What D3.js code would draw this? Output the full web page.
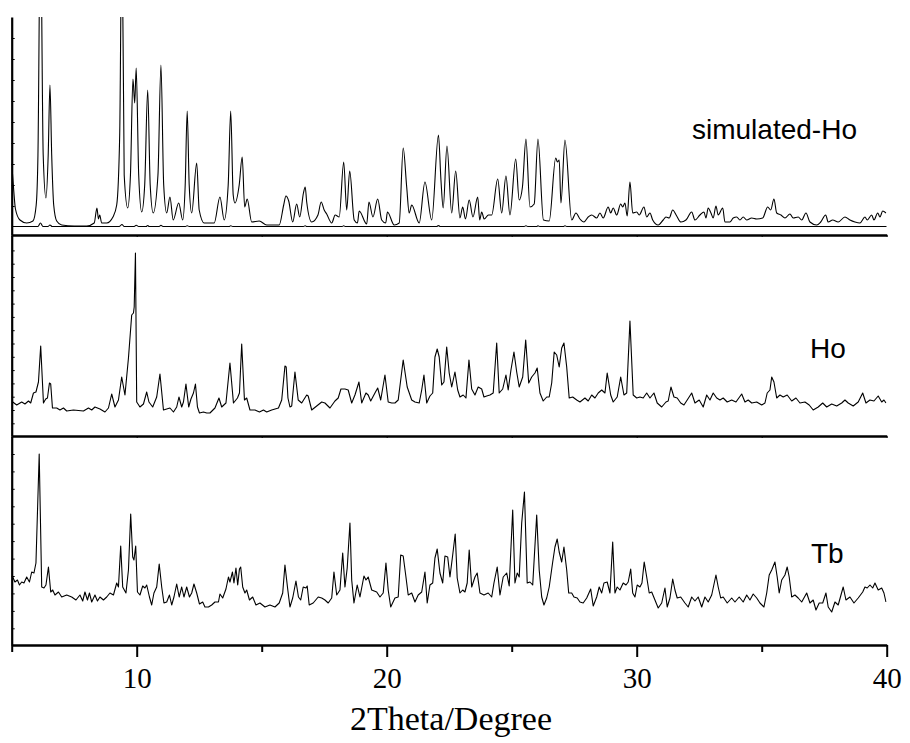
<!DOCTYPE html>
<html>
<head>
<meta charset="utf-8">
<script src="https://cdn.jsdelivr.net/npm/d3@7/dist/d3.min.js"></script>
<style>
  body { margin: 0; background: #fff; }
  svg { display: block; }
</style>
</head>
<body>
<script>
"use strict";

// x = 2Theta (degree), y = intensity (a.u.)
const simHo = [
  [5.00,72],[5.08,45],[5.15,26],[5.33,15],[5.6,12],[5.85,14],[5.98,30],[6.05,80],[6.15,320],[6.26,80],
  [6.37,37],[6.46,80],[6.53,150],[6.60,80],[6.68,30],[6.80,14],[7.0,10],[7.5,9],[8.0,9],[8.3,12],
  [8.41,27],[8.47,16],[8.52,20],[8.6,12],[8.8,12],[9.05,18],[9.2,30],[9.32,100],[9.41,320],[9.5,60],
  [9.64,27],[9.75,60],[9.85,156],[9.92,132],[9.98,167],[10.08,60],[10.2,23],[10.32,50],[10.44,145],[10.54,50],
  [10.66,22],[10.85,60],[10.97,170],[11.08,50],[11.2,22],[11.33,38],[11.46,15],[11.68,32],[11.84,15],[11.94,50],
  [12.02,124],[12.1,50],[12.2,22],[12.4,72],[12.5,25],[12.7,12],[13.1,12],[13.33,38],[13.5,15],[13.66,50],
  [13.76,124],[13.86,40],[13.93,32],[14.1,50],[14.22,78],[14.32,28],[14.42,36],[14.6,13],[14.9,14],[15.2,10],
  [15.7,10],[15.88,30],[15.97,39],[16.08,34],[16.24,13],[16.4,31],[16.52,18],[16.67,42],[16.74,48],[16.8,33],
  [17.0,13],[17.25,20],[17.38,33],[17.5,25],[17.6,21],[17.8,12],[17.94,20],[18.1,18],[18.28,73],[18.4,25],
  [18.52,64],[18.7,15],[18.83,12],[18.9,24],[19.2,11],[19.29,33],[19.45,18],[19.64,36],[19.8,15],[19.96,12],
  [20.03,23],[20.3,10],[20.5,12],[20.66,87],[20.8,48],[20.9,22],[21.0,30],[21.3,12],[21.53,53],[21.8,15],
  [22.07,100],[22.17,55],[22.26,27],[22.41,89],[22.6,22],[22.76,64],[22.93,17],[23.04,28],[23.15,16],[23.3,35],
  [23.45,18],[23.64,38],[23.72,15],[23.8,23],[23.9,16],[24.07,20],[24.2,20],[24.44,56],[24.6,22],[24.77,59],
  [24.93,20],[25.16,76],[25.3,35],[25.43,48],[25.57,96],[25.73,28],[25.9,31],[26.05,96],[26.27,15],[26.5,14],
  [26.76,77],[26.83,73],[26.9,75],[26.97,32],[27.13,95],[27.4,15],[27.57,22],[27.73,16],[27.89,13],[28.06,18],
  [28.2,20],[28.4,17],[28.53,22],[28.66,17],[28.86,28],[28.96,22],[29.06,27],[29.2,20],[29.36,31],[29.44,28],
  [29.53,32],[29.62,19],[29.73,53],[29.84,22],[30.0,23],[30.1,20],[30.29,28],[30.4,18],[30.53,22],[30.64,15],
  [30.86,10],[31.06,15],[31.17,18],[31.3,17],[31.44,25],[31.6,19],[31.77,13],[31.97,15],[32.2,23],[32.33,15],
  [32.53,20],[32.69,23],[32.77,17],[32.86,27],[32.97,22],[33.06,17],[33.17,29],[33.26,20],[33.44,27],[33.53,13],
  [33.73,13],[33.86,17],[34.0,18],[34.13,15],[34.26,18],[34.4,15],[34.6,17],[34.8,16],[35.04,17],[35.24,28],
  [35.36,25],[35.49,36],[35.6,22],[35.77,20],[35.93,17],[36.13,21],[36.26,17],[36.46,18],[36.6,15],[36.77,22],
  [36.93,13],[37.2,10],[37.36,13],[37.56,20],[37.66,13],[37.84,15],[38.06,13],[38.33,18],[38.53,15],[38.73,13],
  [38.93,12],[39.13,18],[39.22,15],[39.4,20],[39.49,15],[39.64,22],[39.73,18],[39.84,24],[39.97,22]
];

const simBase = [
  [5.0,8.5],[6.05,8.5],[6.15,12],[6.25,8.5],[6.45,8.5],[6.53,10],[6.62,8.5],[9.3,8.5],[9.41,10.5],[9.5,8.5],
  [9.9,8.5],[9.98,9.8],[10.08,8.5],[10.38,8.5],[10.44,9.5],[10.5,8.5],[10.9,8.5],[10.97,9.6],[11.05,8.5],
  [11.95,8.5],[12.02,9.3],[12.1,8.5],[13.7,8.5],[13.76,9.3],[13.84,8.5],[16.67,8.5],[16.74,9.3],[16.8,8.5],
  [18.22,8.5],[18.28,9.2],[18.34,8.5],[22.0,8.5],[22.07,9.4],[22.14,8.5],[25.5,8.5],[25.57,9.3],[25.64,8.5],
  [26.0,8.5],[26.05,9.3],[26.12,8.5],[27.07,8.5],[27.13,9.3],[27.2,8.5],[40.0,8.5]
];

const expHo = [
  [5.04,34],[5.2,31],[5.4,34],[5.53,32],[5.67,35],[5.76,33],[5.87,43],[5.97,44],[6.07,54],[6.16,90],
  [6.27,33],[6.36,37],[6.43,38],[6.51,53],[6.56,52],[6.63,28],[6.8,28],[6.93,26],[7.07,28],[7.2,25],
  [7.47,26],[7.87,25],[8.07,28],[8.2,26],[8.33,29],[8.53,27],[8.73,24],[8.87,28],[9.0,42],[9.13,29],
  [9.27,36],[9.4,59],[9.53,41],[9.67,78],[9.8,121],[9.87,123],[9.9,129],[9.95,183],[10.0,34],[10.13,29],
  [10.27,32],[10.4,44],[10.49,34],[10.64,29],[10.8,39],[10.93,62],[11.07,26],[11.2,27],[11.33,28],[11.47,24],
  [11.6,29],[11.69,39],[11.8,29],[11.87,34],[11.97,52],[12.08,29],[12.17,37],[12.27,43],[12.35,52],[12.43,29],
  [12.51,23],[12.67,24],[12.8,23],[12.93,23],[13.13,28],[13.29,38],[13.4,29],[13.57,33],[13.73,73],[13.87,33],
  [14.03,38],[14.11,43],[14.2,92],[14.31,36],[14.4,38],[14.53,26],[14.73,26],[14.91,24],[15.07,26],[15.2,24],
  [15.4,26],[15.67,28],[15.8,36],[15.93,70],[15.98,69],[16.05,38],[16.13,29],[16.2,30],[16.33,64],[16.46,36],
  [16.6,33],[16.8,41],[16.86,40],[17.0,26],[17.2,30],[17.4,34],[17.53,33],[17.73,28],[17.93,35],[18.06,38],
  [18.17,47],[18.33,47],[18.46,46],[18.6,33],[18.73,41],[18.89,54],[19.0,33],[19.17,43],[19.26,41],[19.36,35],
  [19.53,43],[19.64,48],[19.76,36],[19.93,61],[20.06,34],[20.2,33],[20.33,33],[20.46,36],[20.66,76],[20.82,49],
  [21.0,36],[21.13,34],[21.3,33],[21.4,46],[21.49,61],[21.6,33],[21.73,40],[21.84,43],[21.93,79],[22.02,87],
  [22.1,79],[22.2,51],[22.29,54],[22.4,89],[22.5,63],[22.6,49],[22.73,64],[22.84,46],[22.93,39],[23.06,41],
  [23.17,38],[23.29,76],[23.4,47],[23.53,41],[23.66,49],[23.8,47],[23.89,39],[24.0,40],[24.13,41],[24.26,43],
  [24.4,93],[24.5,43],[24.64,47],[24.77,61],[24.86,46],[24.97,66],[25.09,84],[25.2,64],[25.3,49],[25.44,59],
  [25.56,96],[25.68,53],[25.8,59],[25.93,63],[26.02,68],[26.13,43],[26.26,35],[26.4,39],[26.5,39],[26.6,53],
  [26.7,84],[26.8,81],[26.9,69],[27.0,88],[27.09,93],[27.2,69],[27.3,38],[27.44,39],[27.6,36],[27.73,34],
  [27.93,38],[28.06,35],[28.2,41],[28.33,38],[28.46,43],[28.6,46],[28.73,43],[28.82,63],[28.96,41],[29.06,34],
  [29.22,39],[29.36,59],[29.49,41],[29.6,43],[29.73,115],[29.86,41],[30.0,38],[30.13,39],[30.26,38],[30.4,43],
  [30.53,38],[30.69,43],[30.82,33],[31.0,29],[31.17,34],[31.26,35],[31.37,49],[31.49,39],[31.62,38],[31.76,33],
  [31.89,31],[32.02,36],[32.2,43],[32.33,33],[32.5,36],[32.66,29],[32.8,41],[32.93,36],[33.06,43],[33.2,38],
  [33.33,36],[33.46,38],[33.62,34],[33.8,36],[33.97,34],[34.2,42],[34.33,34],[34.46,36],[34.6,33],[34.8,34],
  [35.0,31],[35.13,33],[35.22,43],[35.33,46],[35.4,59],[35.49,54],[35.6,38],[35.73,41],[35.86,39],[36.02,41],
  [36.2,35],[36.37,38],[36.53,33],[36.73,34],[36.9,31],[37.06,26],[37.26,29],[37.44,33],[37.6,29],[37.8,32],
  [38.0,30],[38.2,33],[38.33,36],[38.46,33],[38.66,30],[38.86,34],[39.04,43],[39.17,33],[39.33,36],[39.49,35],
  [39.66,40],[39.8,34],[39.89,36],[39.97,33]
];

const expTb = [
  [5.04,68],[5.13,63],[5.23,65],[5.31,60],[5.4,63],[5.49,62],[5.6,68],[5.71,63],[5.8,73],[5.89,72],
  [5.97,82],[6.1,191],[6.2,58],[6.29,57],[6.37,60],[6.47,78],[6.56,53],[6.64,55],[6.73,50],[6.87,53],
  [7.0,48],[7.2,50],[7.4,48],[7.57,45],[7.73,50],[7.84,44],[7.93,53],[8.03,45],[8.11,52],[8.2,43],
  [8.33,50],[8.43,44],[8.53,48],[8.67,45],[8.8,48],[8.93,52],[9.07,50],[9.2,62],[9.27,58],[9.36,99],
  [9.44,58],[9.57,52],[9.67,75],[9.76,131],[9.84,88],[9.89,85],[9.96,99],[10.03,53],[10.13,50],[10.24,59],
  [10.33,57],[10.4,60],[10.51,48],[10.6,40],[10.69,52],[10.8,58],[10.9,81],[11.0,58],[11.09,42],[11.2,43],
  [11.31,50],[11.4,40],[11.49,48],[11.6,61],[11.7,48],[11.8,58],[11.89,48],[12.0,58],[12.11,48],[12.2,52],
  [12.29,61],[12.4,52],[12.51,41],[12.64,43],[12.73,38],[12.87,38],[13.0,40],[13.13,43],[13.27,43],[13.33,51],
  [13.44,47],[13.57,56],[13.67,68],[13.73,63],[13.83,73],[13.89,62],[13.97,77],[14.04,60],[14.11,76],[14.16,78],
  [14.24,58],[14.33,52],[14.4,55],[14.51,45],[14.64,48],[14.77,40],[14.93,42],[15.13,38],[15.33,40],[15.53,38],
  [15.7,42],[15.84,52],[15.93,80],[16.03,58],[16.13,38],[16.24,47],[16.37,64],[16.47,48],[16.56,45],[16.66,58],
  [16.77,57],[16.82,59],[16.9,40],[17.06,42],[17.26,48],[17.4,47],[17.53,45],[17.66,42],[17.8,47],[17.89,73],
  [18.0,50],[18.13,55],[18.24,92],[18.33,58],[18.42,77],[18.53,122],[18.6,65],[18.69,42],[18.82,60],[18.93,48],
  [19.09,69],[19.17,65],[19.26,68],[19.4,55],[19.6,53],[19.73,48],[19.86,52],[19.97,82],[20.06,55],[20.16,38],
  [20.33,47],[20.46,48],[20.56,90],[20.66,89],[20.77,68],[20.86,50],[21.0,52],[21.13,43],[21.26,50],[21.4,53],
  [21.53,73],[21.62,42],[21.73,60],[21.84,62],[21.93,87],[22.02,96],[22.13,72],[22.24,62],[22.33,89],[22.44,88],
  [22.53,68],[22.64,90],[22.74,111],[22.82,67],[22.93,52],[23.04,55],[23.13,53],[23.22,62],[23.3,95],[23.4,58],
  [23.53,68],[23.62,72],[23.73,52],[23.89,50],[24.06,52],[24.2,48],[24.29,62],[24.42,78],[24.53,50],[24.66,68],
  [24.8,72],[24.9,59],[25.04,135],[25.13,62],[25.22,72],[25.3,68],[25.4,122],[25.51,153],[25.62,62],[25.73,63],
  [25.84,60],[26.0,130],[26.1,75],[26.2,48],[26.29,40],[26.4,47],[26.5,58],[26.64,83],[26.73,98],[26.82,106],
  [26.9,93],[27.0,83],[27.09,98],[27.2,75],[27.28,52],[27.4,52],[27.49,48],[27.62,47],[27.73,43],[27.86,42],
  [28.0,47],[28.16,56],[28.26,39],[28.4,48],[28.5,58],[28.6,52],[28.69,62],[28.82,63],[28.93,52],[29.04,103],
  [29.13,52],[29.22,58],[29.33,55],[29.46,62],[29.57,60],[29.66,63],[29.76,76],[29.84,52],[29.93,48],[30.02,60],
  [30.13,58],[30.21,62],[30.3,83],[30.4,68],[30.5,52],[30.6,53],[30.73,45],[30.86,37],[31.0,42],[31.13,57],
  [31.22,38],[31.33,47],[31.44,66],[31.53,55],[31.62,47],[31.76,48],[31.93,42],[32.06,38],[32.2,48],[32.33,44],
  [32.46,48],[32.6,38],[32.73,48],[32.86,43],[33.0,50],[33.17,70],[33.26,58],[33.36,47],[33.46,48],[33.62,42],
  [33.8,47],[33.93,43],[34.1,48],[34.26,43],[34.4,50],[34.53,45],[34.66,51],[34.8,47],[34.93,42],[35.09,38],
  [35.2,52],[35.3,70],[35.4,75],[35.53,83],[35.62,68],[35.7,52],[35.8,65],[35.93,70],[36.02,78],[36.1,68],
  [36.2,48],[36.33,50],[36.46,47],[36.6,43],[36.8,52],[36.93,42],[37.06,45],[37.17,35],[37.3,42],[37.44,42],
  [37.57,52],[37.66,38],[37.8,33],[37.93,43],[38.06,40],[38.26,58],[38.37,45],[38.53,48],[38.69,42],[38.86,47],
  [39.04,53],[39.13,58],[39.22,57],[39.33,60],[39.44,57],[39.53,62],[39.66,55],[39.8,57],[39.89,52],[39.97,43]
];

// unlabelled inner ticks on the left edge of each panel (intensity units)
const topTicks = [29, 50, 71, 92, 113, 134, 155, 176, 197];
const midTicks = [12.7, 26, 39.3, 52.6, 65.9, 79.2, 92.5, 105.8, 119.1, 132.4, 145.7, 159, 172.3, 185.6];
const botTicks = [16.7, 34.1, 51.6, 69, 86.4, 103.9, 121.3, 138.7, 156.2, 173.6, 191];

const xMajor = [10, 20, 30, 40];
const xMinor = [5, 15, 25, 35];
const xAll = [5, 10, 15, 20, 25, 30, 35, 40];
const seriesNames = ["simulated-Ho", "Ho", "Tb"];
const xTitle = "2Theta/Degree";

(function(){
    const measurements = {
        width: 910,
        height: 743,
        left: 11.7,
        right: 886.7
    };

    const svg = d3.select("body").append("svg")
        .attr("width", measurements.width)
        .attr("height", measurements.height);

    const x = d3.scaleLinear()
        .domain([5, 40])
        .range([measurements.left, measurements.right]);

    const panels = [
        { bottom: 235, top: 17,  max: 218, lines: [simBase, simHo], ticks: topTicks, curve: d3.curveMonotoneX, label: seriesNames[0], lx: 692, ly: 139 },
        { bottom: 436, top: 235, max: 201, lines: [expHo], ticks: midTicks, curve: d3.curveLinear, label: seriesNames[1], lx: 810, ly: 358 },
        { bottom: 645, top: 436, max: 209, lines: [expTb], ticks: botTicks, curve: d3.curveLinear, label: seriesNames[2], lx: 811, ly: 563 }
    ];

    panels.forEach(function(p, i) {
        const y = d3.scaleLinear().domain([0, p.max]).range([p.bottom, p.top]);

        svg.append("clipPath").attr("id", "clip" + i)
            .append("rect")
            .attr("x", measurements.left).attr("y", p.top)
            .attr("width", measurements.right - measurements.left)
            .attr("height", p.bottom - p.top);

        const line = d3.line()
            .x(function(d) { return x(d[0]); })
            .y(function(d) { return y(d[1]); })
            .curve(p.curve);

        p.lines.forEach(function(data) {
            svg.append("path")
                .datum(data)
                .attr("clip-path", "url(#clip" + i + ")")
                .attr("d", line)
                .attr("fill", "none")
                .attr("stroke", "#000")
                .attr("stroke-width", 1.1)
                .attr("stroke-linejoin", "round");
        });

        // left axis with small inward ticks
        const yAxis = d3.axisLeft(y)
            .tickValues(p.ticks)
            .tickSizeInner(-3)
            .tickSizeOuter(0)
            .tickFormat("");
        const gy = svg.append("g")
            .attr("transform", "translate(" + measurements.left + ",0)")
            .call(yAxis);
        gy.select(".domain").attr("stroke-width", 2.2);
        gy.selectAll(".tick line").attr("stroke-width", 1);

        // panel bottom line
        if (i < 2) {
            const sep = svg.append("g")
                .attr("transform", "translate(0," + p.bottom + ")")
                .call(d3.axisBottom(x).tickValues(xAll).tickSizeInner(2).tickSizeOuter(0).tickFormat(""));
            sep.select(".domain").attr("stroke-width", 2.4);
        }

        svg.append("text")
            .attr("x", p.lx)
            .attr("y", p.ly)
            .style("font-family", "'Liberation Sans', Arial, sans-serif")
            .style("font-size", "28px")
            .text(p.label);
    });

    // bottom x axis
    const base = panels[2].bottom;
    const gMinor = svg.append("g")
        .attr("transform", "translate(0," + base + ")")
        .call(d3.axisBottom(x).tickValues(xMinor).tickSizeInner(7).tickSizeOuter(0).tickFormat(""));
    gMinor.selectAll(".tick line").attr("stroke-width", 2);

    const gMajor = svg.append("g")
        .attr("transform", "translate(0," + base + ")")
        .call(d3.axisBottom(x).tickValues(xMajor).tickSizeInner(12).tickSizeOuter(0).tickPadding(10).tickFormat(d3.format("d")));
    gMajor.select(".domain").attr("stroke-width", 2.4);
    gMajor.selectAll(".tick line").attr("stroke-width", 2);
    gMajor.selectAll(".tick text")
        .style("font-family", "'Liberation Serif', 'Times New Roman', serif")
        .style("font-size", "29px")
        .attr("fill", "#000");

    svg.append("text")
        .attr("x", 451)
        .attr("y", 730)
        .attr("text-anchor", "middle")
        .style("font-family", "'Liberation Serif', 'Times New Roman', serif")
        .style("font-size", "34px")
        .text(xTitle);
})();
</script>
</body>
</html>
